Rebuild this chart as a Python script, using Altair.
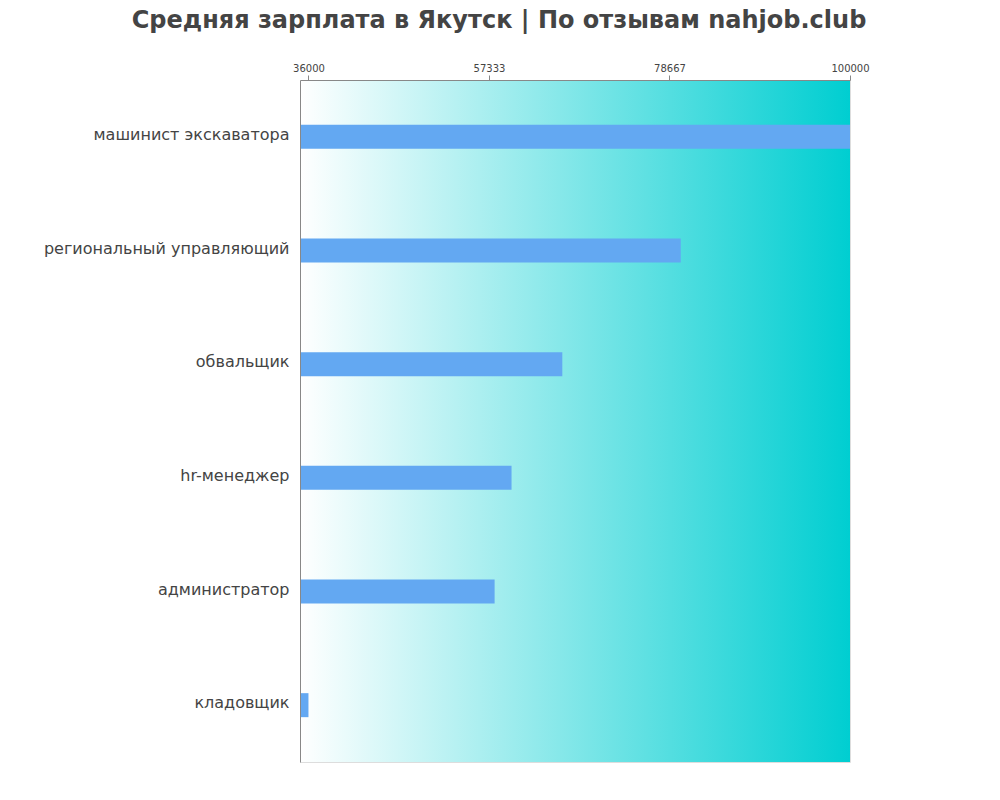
import altair as alt
import pandas as pd

jobs = ["машинист экскаватора", "региональный управляющий", "обвальщик",
        "hr-менеджер", "администратор", "кладовщик"]
salaries = [100000, 80000, 66000, 60000, 58000, 36000]
tick_values = [36000, 57333, 78667, 100000]
x_domain = [35000, 100000]

W, H = 550, 682
FONT = "DejaVu Sans"

df = pd.DataFrame({"job": jobs, "salary": salaries})
bg_df = pd.DataFrame({"a": [0]})

bg = alt.Chart(bg_df).mark_rect(
    color=alt.Gradient(
        gradient="linear",
        stops=[alt.GradientStop(color="#ffffff", offset=0),
               alt.GradientStop(color="#00ced1", offset=1)],
        x1=0, x2=1, y1=0, y2=0,
    )
).encode(
    x=alt.value(0), x2=alt.value(W), y=alt.value(0), y2=alt.value(H)
)

bars = alt.Chart(df).mark_bar(color="#63a8f2", size=24, clip=True).encode(
    x=alt.X("salary:Q",
            scale=alt.Scale(domain=x_domain, nice=False, zero=False),
            axis=alt.Axis(orient="top", values=tick_values, format="d",
                          title=None, grid=False, labelFontSize=10,
                          labelColor="#444444", labelFont=FONT,
                          tickColor="#888888", domainColor="#888888",
                          tickSize=5, labelPadding=2, labelFlush=False,
                          zindex=1)),
    x2=alt.datum(x_domain[0]),
    y=alt.Y("job:N", sort=jobs,
            axis=alt.Axis(title=None, ticks=False, labelFontSize=16,
                          labelColor="#444444", labelFont=FONT,
                          domainColor="#888888", labelPadding=11,
                          labelOffset=-2, labelLimit=400, zindex=1)),
)

chart = alt.layer(bg, bars).properties(
    width=W, height=H,
    title=alt.TitleParams(
        "Средняя зарплата в Якутск | По отзывам nahjob.club",
        font=FONT, fontSize=24, fontWeight="bold", color="#444444",
        anchor="middle", dx=-76, offset=30,
    ),
    autosize=alt.AutoSizeParams(type="none"),
    padding={"left": 292, "top": 72, "right": 130, "bottom": 20},
).configure_view(stroke=None).configure(background="white")

chart.save("out.html", embed_options={"renderer": "svg", "actions": False})
